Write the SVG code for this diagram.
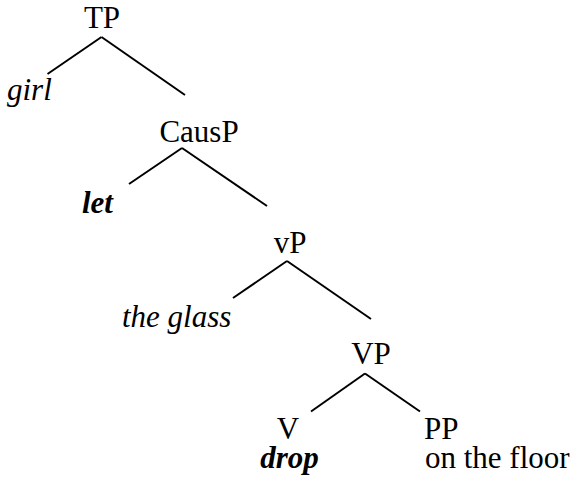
<svg xmlns="http://www.w3.org/2000/svg" width="577" height="490" viewBox="0 0 577 490">
<style>
.t{font-family:'Liberation Serif','Times New Roman','DejaVu Serif',serif;font-size:31px;fill:#000}
.i{font-style:italic}
.b{font-style:italic;font-weight:bold}
.c{text-anchor:middle}
line{stroke:#000;stroke-width:2;stroke-linecap:butt}
</style>
<rect width="577" height="490" fill="#fff"/>
<g id="connectors">
<line x1="101.5" y1="37" x2="47.5" y2="74"/>
<line x1="101.5" y1="37" x2="185" y2="95"/>
<line x1="182" y1="148" x2="129" y2="184"/>
<line x1="182" y1="148" x2="267" y2="206"/>
<line x1="287" y1="261" x2="233" y2="298"/>
<line x1="287" y1="261" x2="371" y2="319"/>
<line x1="365" y1="373.5" x2="311" y2="411.5"/>
<line x1="365" y1="373.5" x2="420" y2="411.5"/>
</g>
<g font-family="Liberation Serif, serif" font-size="31">
<g id="TP"><text class="t c" x="102" y="28">TP</text></g>
<g id="girl"><text class="t i" x="7" y="100">girl</text></g>
<g id="CausP"><text class="t c" x="199" y="142">CausP</text></g>
<g id="let"><text class="t b" x="82" y="213">let</text></g>
<g id="vP"><text class="t c" x="290" y="253">vP</text></g>
<g id="theglass"><text class="t i" x="122" y="327">the glass</text></g>
<g id="VP"><text class="t c" x="371" y="364">VP</text></g>
<g id="V"><text class="t c" x="288" y="439">V</text><text class="t b c" x="289.5" y="468">drop</text></g>
<g id="PP"><text class="t" x="424" y="439">PP</text><text class="t" x="425" y="468">on the floor</text></g>
</g>
</svg>
